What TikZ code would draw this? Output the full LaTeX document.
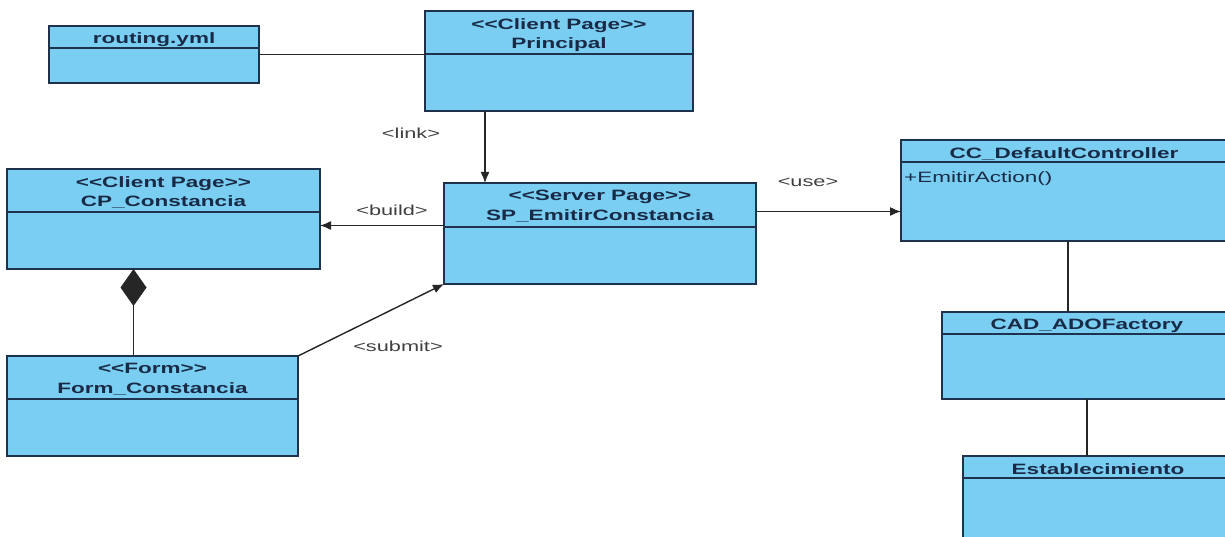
\documentclass[tikz,border=0pt]{standalone}
\usepackage{fontspec}
\setmainfont{Liberation Sans}[Ligatures=TeXOff]
\usetikzlibrary{arrows.meta,positioning}
\definecolor{umlfill}{RGB}{122,206,242}
\definecolor{umledge}{RGB}{30,50,78}
\definecolor{umltext}{RGB}{25,42,70}
\newcommand{\wide}[1]{\scalebox{1.5}[1]{#1}}

\tikzset{
  classbox/.style={draw=umledge, fill=umlfill, line width=1.7pt, rectangle,
    anchor=north west, inner sep=0pt, outer sep=0pt},
  divider/.style={draw=umledge, line width=1.5pt},
  umltitle/.style={anchor=north, align=center, text=umltext, inner sep=0pt,
    font=\fontsize{15}{19.5}\selectfont\bfseries},
  umlop/.style={anchor=base west, text=umltext, inner sep=0pt,
    font=\fontsize{15}{18}\selectfont},
  umllbl/.style={text=black!75, inner sep=0pt, font=\fontsize{14.5}{17}\selectfont},
  arr/.style={-{Latex[length=11pt,width=9pt]}, line width=1.4pt, black!85},
  plain/.style={line width=1.4pt, black!85},
  comp/.style={{Diamond[length=37pt,width=26pt]}-, line width=1.4pt, black!85}
}

\begin{document}
\begin{tikzpicture}[x=1pt,y=-1pt]
  \useasboundingbox (0,0) rectangle (1225,537);
  \clip (0,0) rectangle (1225,537);
  \fill[white] (0,0) rectangle (1225,537);

  % classes
  \node[classbox, minimum width=210, minimum height=57] (routing) at (49,26) {};
  \node[classbox, minimum width=268, minimum height=100] (principal) at (425,11) {};
  \node[classbox, minimum width=313, minimum height=100] (cp) at (7,169) {};
  \node[classbox, minimum width=312, minimum height=101] (sp) at (444,183) {};
  \node[classbox, minimum width=326, minimum height=101] (cc) at (901,140) {};
  \node[classbox, minimum width=290, minimum height=87] (cad) at (942,312) {};
  \node[classbox, minimum width=270, minimum height=100] (estab) at (963,456) {};
  \node[classbox, minimum width=291, minimum height=100] (form) at (7,356) {};

  \foreach \b/\d in {routing/22, principal/43, cp/43, sp/44, cc/22, cad/22, estab/22, form/43}
    \draw[divider] ([yshift=-\d pt]\b.north west) -- ([yshift=-\d pt]\b.north east);

  \node[umltitle] (routingname) at ([yshift=-6pt]routing.north) {\wide{routing.yml}};
  \node[umltitle] (principalname) at ([yshift=-7pt]principal.north) {\wide{<<Client Page>>}\\\wide{Principal}};
  \node[umltitle] (cpname) at ([yshift=-7pt]cp.north) {\wide{<<Client Page>>}\\\wide{CP\_Constancia}};
  \node[umltitle] (spname) at ([yshift=-7pt]sp.north) {\wide{<<Server Page>>}\\\wide{SP\_EmitirConstancia}};
  \node[umltitle] (ccname) at ([yshift=-7pt]cc.north) {\wide{CC\_DefaultController}};
  \node[umlop] (ccop) at ([xshift=3pt,yshift=-43pt]cc.north west) {\wide{+EmitirAction()}};
  \node[umltitle] (cadname) at ([yshift=-7pt]cad.north) {\wide{CAD\_ADOFactory}};
  \node[umltitle] (estabname) at ([yshift=-7pt]estab.north) {\wide{Establecimiento}};
  \node[umltitle] (formname) at ([yshift=-7pt]form.north) {\wide{<<Form>>}\\\wide{Form\_Constancia}};

  % connectors
  \draw[plain] (routing.east) -- (routing.east -| principal.west);
  \draw[arr] ([xshift=-74pt]principal.south) -- ([xshift=-74pt]principal.south |- sp.north);
  \draw[arr] ([yshift=8pt]sp.west) -- ([yshift=8pt]sp.west -| cp.east);
  \draw[arr] ([yshift=22pt]sp.east) -- ([yshift=22pt]sp.east -| cc.west);
  \draw[arr] (form.north east) -- (sp.south west);
  \draw[comp] ([xshift=-30pt]cp.south) -- ([xshift=-30pt]cp.south |- form.north);
  \draw[plain] ([xshift=4pt]cc.south) -- ([xshift=4pt]cc.south |- cad.north);
  \draw[plain] (cad.south) -- (cad.south |- estab.north);

  % labels
  \node[umllbl] (lnk) at (411,133) {\wide{<link>}};
  \node[umllbl] (bld) at (392,210) {\wide{<build>}};
  \node[umllbl] (use) at (808,182) {\wide{<use>}};
  \node[umllbl] (sbm) at (398,346) {\wide{<submit>}};
\end{tikzpicture}
\end{document}
